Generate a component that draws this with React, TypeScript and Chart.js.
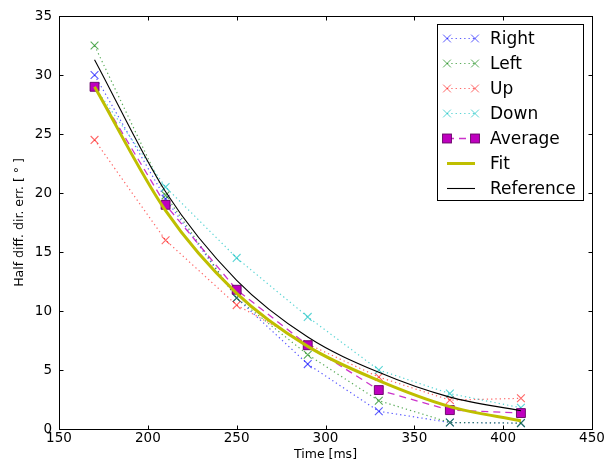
import React, { useEffect, useRef } from "react";
import { Chart, registerables } from "chart.js";

Chart.register(...registerables);

const times = [170, 210, 250, 290, 330, 370, 410];
const rightVals = [30, 19.5, 11.1, 5.5, 1.5, 0.55, 0.5];
const leftVals = [32.5, 19.8, 11.1, 6.3, 2.4, 0.55, 0.5];
const upVals = [24.5, 16, 10.5, 7.2, 4.4, 2.45, 2.6];
const downVals = [29, 20.5, 14.5, 9.5, 5.0, 3.0, 1.8];
const averageVals = [29, 19, 11.8, 7.1, 3.3, 1.6, 1.35];
const fitVals = [29, 18.5, 11.5, 7.0, 4.1, 1.9, 0.7];
const referenceVals = [31.3, 20.1, 12.6, 7.8, 4.8, 2.7, 1.55];

const xTicks = [150, 200, 250, 300, 350, 400, 450];
const yTicks = [0, 5, 10, 15, 20, 25, 30, 35];
const legendLabels = ["Right", "Left", "Up", "Down", "Average", "Fit", "Reference"];

const FONT = "'DejaVu Sans', sans-serif";

const pts = (vals: number[]) => times.map((t, i) => ({ x: t, y: vals[i] }));

const framePlugin = {
  id: "mplFrame",
  afterDatasetsDraw(chart: any) {
    const { ctx, chartArea: a, scales } = chart;
    ctx.save();
    ctx.strokeStyle = "#000";
    ctx.lineWidth = 1;
    const L = Math.round(a.left) + 0.5, R = Math.round(a.right) + 0.5;
    const T = Math.round(a.top) + 0.5, B = Math.round(a.bottom) + 0.5;
    ctx.strokeRect(L, T, R - L, B - T);
    const tl = 4;
    ctx.beginPath();
    xTicks.forEach((v) => {
      const x = Math.round(scales.x.getPixelForValue(v)) + 0.5;
      ctx.moveTo(x, B); ctx.lineTo(x, B - tl);
      ctx.moveTo(x, T); ctx.lineTo(x, T + tl);
    });
    yTicks.forEach((v) => {
      const y = Math.round(scales.y.getPixelForValue(v)) + 0.5;
      ctx.moveTo(L, y); ctx.lineTo(L + tl, y);
      ctx.moveTo(R, y); ctx.lineTo(R - tl, y);
    });
    ctx.stroke();
    ctx.restore();
  },
};

function drawMarker(ctx: CanvasRenderingContext2D, style: string, x: number, y: number, color: string, fill: string, r: number) {
  ctx.save();
  ctx.setLineDash([]);
  if (style === "crossRot") {
    const d = r * Math.SQRT1_2;
    ctx.strokeStyle = color;
    ctx.lineWidth = 1;
    ctx.beginPath();
    ctx.moveTo(x - d, y - d); ctx.lineTo(x + d, y + d);
    ctx.moveTo(x - d, y + d); ctx.lineTo(x + d, y - d);
    ctx.stroke();
  } else if (style === "rect") {
    const s = r * Math.SQRT1_2;
    ctx.fillStyle = fill;
    ctx.strokeStyle = color;
    ctx.lineWidth = 1;
    ctx.fillRect(x - s, y - s, 2 * s, 2 * s);
    ctx.strokeRect(x - s, y - s, 2 * s, 2 * s);
  }
  ctx.restore();
}

const legendPlugin = {
  id: "mplLegend",
  afterDraw(chart: any) {
    const ctx = chart.ctx as CanvasRenderingContext2D;
    ctx.save();
    const x0 = 437.5, y0 = 24.5, w = 146, h = 176;
    ctx.fillStyle = "#fff";
    ctx.fillRect(x0, y0, w, h);
    ctx.strokeStyle = "#000";
    ctx.lineWidth = 1;
    ctx.strokeRect(x0, y0, w, h);
    ctx.font = `17px ${FONT}`;
    ctx.textBaseline = "middle";
    ctx.textAlign = "left";
    legendLabels.forEach((label, i) => {
      const ds = chart.data.datasets.find((d: any) => d.label === label);
      const y = 38.5 + 25 * i;
      const xa = 447, xb = 475;
      ctx.save();
      ctx.strokeStyle = ds.borderColor;
      ctx.lineWidth = ds.borderWidth;
      ctx.setLineDash(ds.borderDash || []);
      ctx.beginPath();
      ctx.moveTo(xa, y); ctx.lineTo(xb, y);
      ctx.stroke();
      ctx.restore();
      if (ds.pointStyle && ds.pointRadius > 0) {
        drawMarker(ctx, ds.pointStyle, xa, y, ds.pointBorderColor, ds.pointBackgroundColor, ds.pointRadius);
        drawMarker(ctx, ds.pointStyle, xb, y, ds.pointBorderColor, ds.pointBackgroundColor, ds.pointRadius);
      }
      ctx.fillStyle = "#000";
      ctx.fillText(label, 490, y + 1);
    });
    ctx.restore();
  },
};

function dotted(label: string, vals: number[], color: string, order: number) {
  return {
    label,
    data: pts(vals),
    borderColor: color,
    backgroundColor: color,
    borderWidth: 1.2,
    borderDash: [1.3, 3],
    pointStyle: "crossRot",
    pointRadius: 5.5,
    pointBorderColor: color,
    pointBackgroundColor: color,
    pointBorderWidth: 1.1,
    tension: 0,
    order,
  };
}

export default function App() {
  const ref = useRef<HTMLCanvasElement | null>(null);
  useEffect(() => {
    if (!ref.current) return;
    const chart = new Chart(ref.current, {
      type: "line",
      data: {
        datasets: [
          dotted("Right", rightVals, "rgba(0,0,255,0.65)", 7),
          dotted("Left", leftVals, "rgba(0,128,0,0.65)", 6),
          dotted("Up", upVals, "rgba(255,0,0,0.6)", 5),
          dotted("Down", downVals, "rgba(0,191,191,0.65)", 4),
          {
            label: "Average",
            data: pts(averageVals),
            borderColor: "rgba(191,0,191,0.8)",
            borderWidth: 1.3,
            borderDash: [7, 5],
            pointStyle: "rect",
            pointRadius: 6.3,
            pointBorderColor: "rgba(100,0,100,0.9)",
            pointBackgroundColor: "rgb(191,0,191)",
            pointBorderWidth: 1,
            tension: 0,
            order: 3,
          } as any,
          {
            label: "Fit",
            data: pts(fitVals),
            borderColor: "rgb(191,191,0)",
            borderWidth: 3,
            pointRadius: 0,
            cubicInterpolationMode: "monotone",
            order: 2,
          } as any,
          {
            label: "Reference",
            data: pts(referenceVals),
            borderColor: "#000",
            borderWidth: 1.1,
            pointRadius: 0,
            cubicInterpolationMode: "monotone",
            order: 1,
          } as any,
        ],
      },
      options: {
        responsive: false,
        animation: false,
        layout: { padding: { left: 0, top: 16, right: 14, bottom: 0 } },
        plugins: { legend: { display: false }, tooltip: { enabled: false } },
        scales: {
          x: {
            type: "linear",
            min: 150,
            max: 450,
            afterBuildTicks: (s: any) => { s.ticks = xTicks.map((v) => ({ value: v })); },
            afterFit: (s: any) => { s.height = 37; },
            ticks: { autoSkip: false, maxRotation: 0, color: "#000", font: { family: FONT, size: 13.5 }, padding: 1 },
            grid: { display: false, drawTicks: false },
            border: { display: false },
            title: { display: true, text: "Time [ms]", color: "#000", font: { family: FONT, size: 12.5 }, padding: { top: 0, bottom: 3.5 } },
          },
          y: {
            type: "linear",
            min: 0,
            max: 35,
            afterBuildTicks: (s: any) => { s.ticks = yTicks.map((v) => ({ value: v })); },
            afterFit: (s: any) => { s.width = 59; },
            ticks: { autoSkip: false, color: "#000", font: { family: FONT, size: 13.5 }, padding: 7 },
            grid: { display: false, drawTicks: false },
            border: { display: false },
            title: { display: true, text: "Half diff. dir. err. [ ° ]", color: "#000", font: { family: FONT, size: 12.5 }, padding: { top: 12.5, bottom: 0 } },
          },
        },
      },
      plugins: [framePlugin, legendPlugin],
    } as any);
    return () => chart.destroy();
  }, []);
  return (
    <div style={{ position: "fixed", left: 0, top: 0, width: 606, height: 466, background: "#fff" }}>
      <canvas ref={ref} width={606} height={466} />
    </div>
  );
}
